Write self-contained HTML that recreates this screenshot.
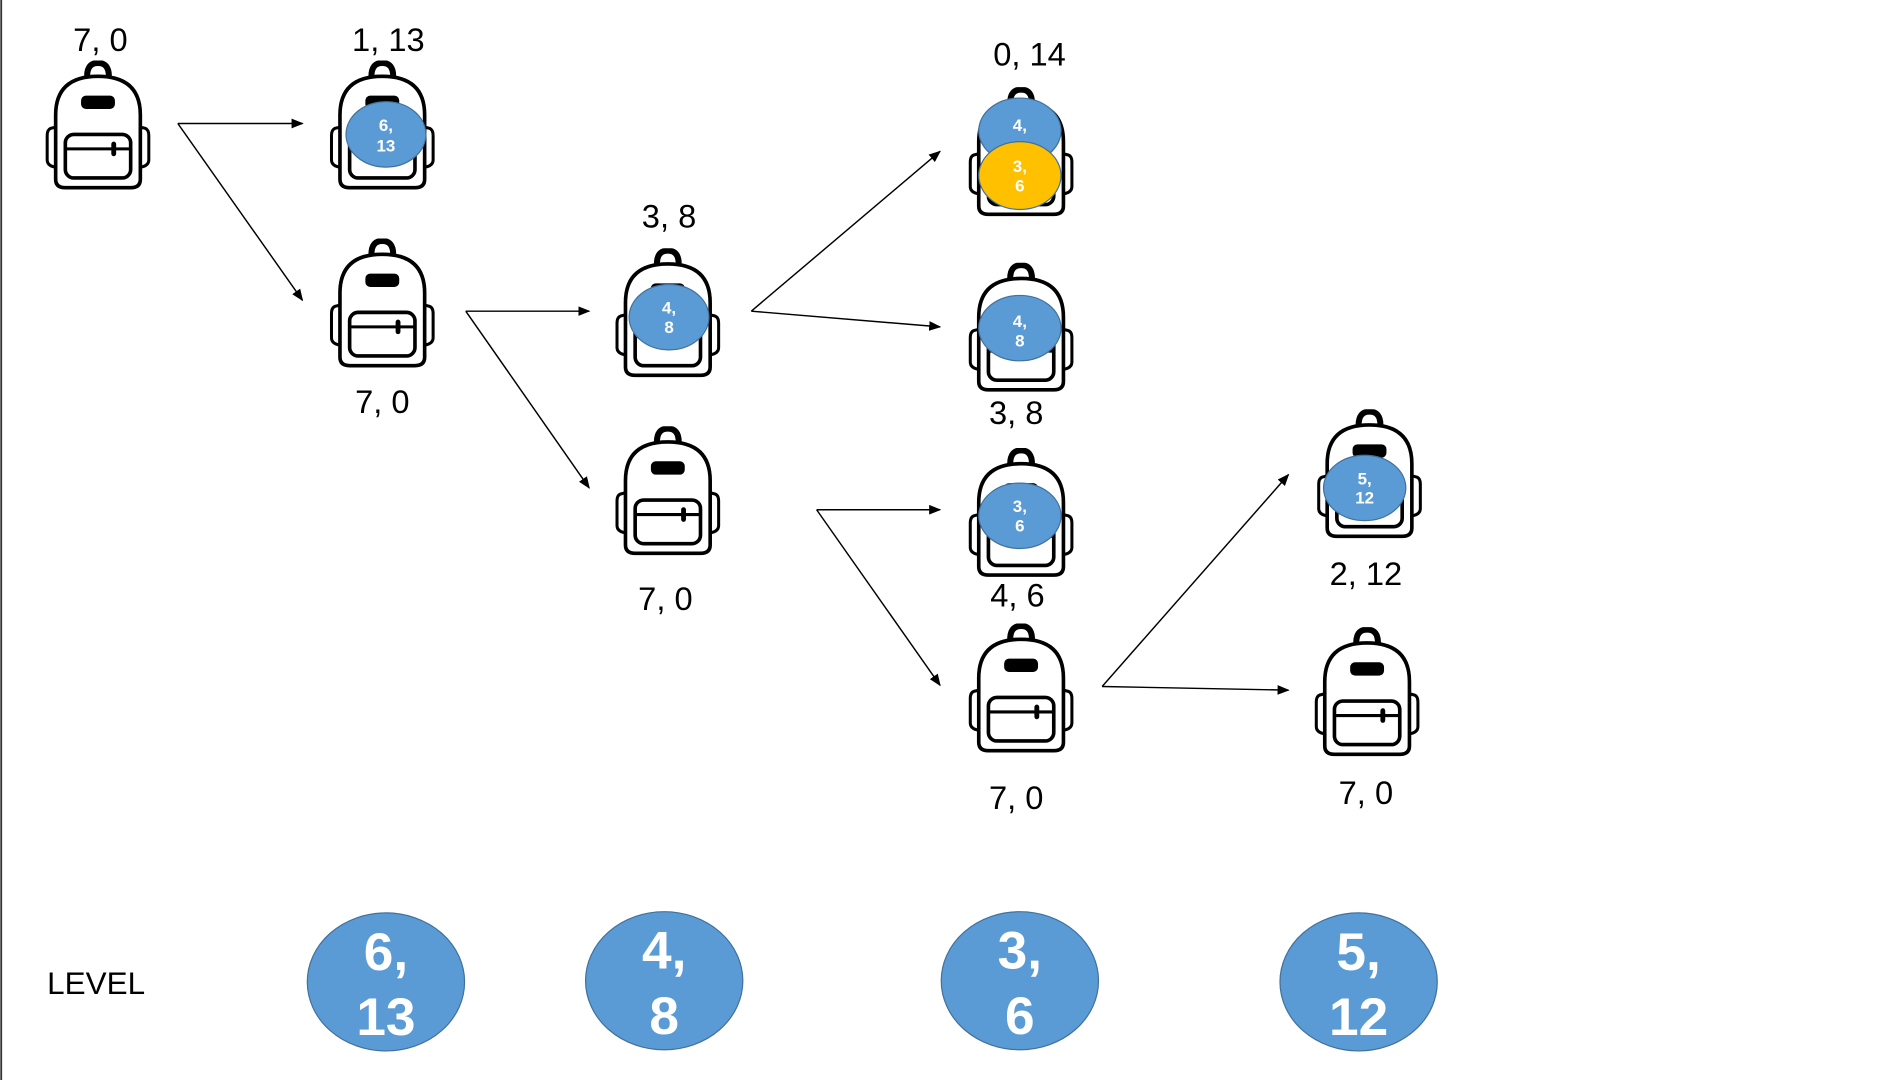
<!DOCTYPE html>
<html><head><meta charset="utf-8"><style>
html,body{margin:0;padding:0;background:#fff;width:1897px;height:1080px;overflow:hidden}
svg{display:block}
text{font-family:"Liberation Sans","Noto Sans CJK KR",sans-serif}
</style></head><body>
<svg width="1897" height="1080" viewBox="0 0 1568 892" preserveAspectRatio="none" xmlns="http://www.w3.org/2000/svg">
<defs>
<symbol id="bp" viewBox="0 0 88 107" width="88" height="107">
<path d="M35,13 Q35,2 44,2 Q53,2 53,13" fill="none" stroke="#000" stroke-width="5"/>
<path d="M9,98 L9,45 Q9,13 44,13 Q79,13 79,45 L79,98 Q79,105 71,105 L17,105 Q9,105 9,98 Z" fill="#fff" stroke="#000" stroke-width="3"/>
<path d="M9,55 L5,56 Q2,57 2,62 L2,82 Q2,87 9,88" fill="none" stroke="#000" stroke-width="2.5"/>
<path d="M79,55 L83,56 Q86,57 86,62 L86,82 Q86,87 79,88" fill="none" stroke="#000" stroke-width="2.5"/>
<rect x="30" y="29" width="28" height="11" rx="4" fill="#000"/>
<rect x="17" y="61" width="54" height="36" rx="7" fill="none" stroke="#000" stroke-width="3"/>
<line x1="17" y1="73" x2="71" y2="73" stroke="#000" stroke-width="2.5"/>
<rect x="55" y="67" width="4" height="12" rx="2" fill="#000"/>
</symbol>
<marker id="ar" markerWidth="10" markerHeight="8" refX="9" refY="4" orient="auto" markerUnits="userSpaceOnUse">
<path d="M0,0 L10,4 L0,8 Z" fill="#000"/>
</marker>
</defs>
<line x1="1" y1="0" x2="1" y2="892" stroke="#333" stroke-width="1.5"/>

<g font-size="27" fill="#000" text-anchor="middle">
<text x="83" y="42">7, 0</text>
<text x="321" y="42">1, 13</text>
<text x="316" y="341">7, 0</text>
<text x="553" y="188">3, 8</text>
<text x="550" y="504">7, 0</text>
<text x="851" y="54">0, 14</text>
<text x="840" y="350">3, 8</text>
<text x="841" y="501">4, 6</text>
<text x="840" y="668">7, 0</text>
<text x="1129" y="483">2, 12</text>
<text x="1129" y="664">7, 0</text>
</g>

<use href="#bp" x="37" y="50"/>
<use href="#bp" x="272" y="50"/>
<use href="#bp" x="272" y="197"/>
<use href="#bp" x="508" y="205"/>
<use href="#bp" x="508" y="352"/>
<use href="#bp" x="800" y="72"/>
<use href="#bp" x="800" y="217"/>
<use href="#bp" x="800" y="370"/>
<use href="#bp" x="800" y="515"/>
<use href="#bp" x="1088" y="338"/>
<use href="#bp" x="1086" y="518"/>

<g fill="#5b9bd5" stroke="#41719c" stroke-width="1">
<ellipse cx="319" cy="111" rx="33" ry="27"/>
<ellipse cx="553" cy="262" rx="33" ry="27"/>
<ellipse cx="843" cy="108" rx="34" ry="27"/>
<ellipse cx="843" cy="271" rx="34" ry="27"/>
<ellipse cx="843" cy="426" rx="34" ry="27"/>
<ellipse cx="1128" cy="403" rx="34" ry="27"/>
<ellipse cx="319" cy="811" rx="65" ry="57"/>
<ellipse cx="549" cy="810" rx="65" ry="57"/>
<ellipse cx="843" cy="810" rx="65" ry="57"/>
<ellipse cx="1123" cy="811" rx="65" ry="57"/>
</g>
<g fill="#fff" font-size="14" font-weight="bold" text-anchor="middle">
<text x="319" y="108">6,</text><text x="319" y="125">13</text>
<text x="553" y="259">4,</text><text x="553" y="275">8</text>
<text x="843" y="108">4,</text>
<text x="843" y="270">4,</text><text x="843" y="286">8</text>
<text x="843" y="423">3,</text><text x="843" y="439">6</text>
<text x="1128" y="400">5,</text><text x="1128" y="416">12</text>
</g>
<ellipse cx="843" cy="145" rx="34" ry="28" fill="#ffc000" stroke="#41719c" stroke-width="1"/>
<g fill="#fff" font-size="14" font-weight="bold" text-anchor="middle">
<text x="843" y="142">3,</text><text x="843" y="158">6</text>
</g>
<g fill="#fff" font-size="44" font-weight="bold" text-anchor="middle">
<text x="319" y="801">6,</text><text x="319" y="855">13</text>
<text x="549" y="800">4,</text><text x="549" y="854">8</text>
<text x="843" y="800">3,</text><text x="843" y="854">6</text>
<text x="1123" y="801">5,</text><text x="1123" y="855">12</text>
</g>
<text x="39" y="821" font-size="26" fill="#000">LEVEL</text>

<g stroke="#000" stroke-width="1.2" marker-end="url(#ar)">
<line x1="147" y1="102" x2="250" y2="102"/>
<line x1="147" y1="102" x2="250" y2="248"/>
<line x1="385" y1="257" x2="487" y2="257"/>
<line x1="385" y1="257" x2="487" y2="403"/>
<line x1="621" y1="257" x2="777" y2="125"/>
<line x1="621" y1="257" x2="777" y2="270"/>
<line x1="675" y1="421" x2="777" y2="421"/>
<line x1="675" y1="421" x2="777" y2="566"/>
<line x1="911" y1="567" x2="1065" y2="392"/>
<line x1="911" y1="567" x2="1065" y2="570"/>
</g>
</svg>
</body></html>
